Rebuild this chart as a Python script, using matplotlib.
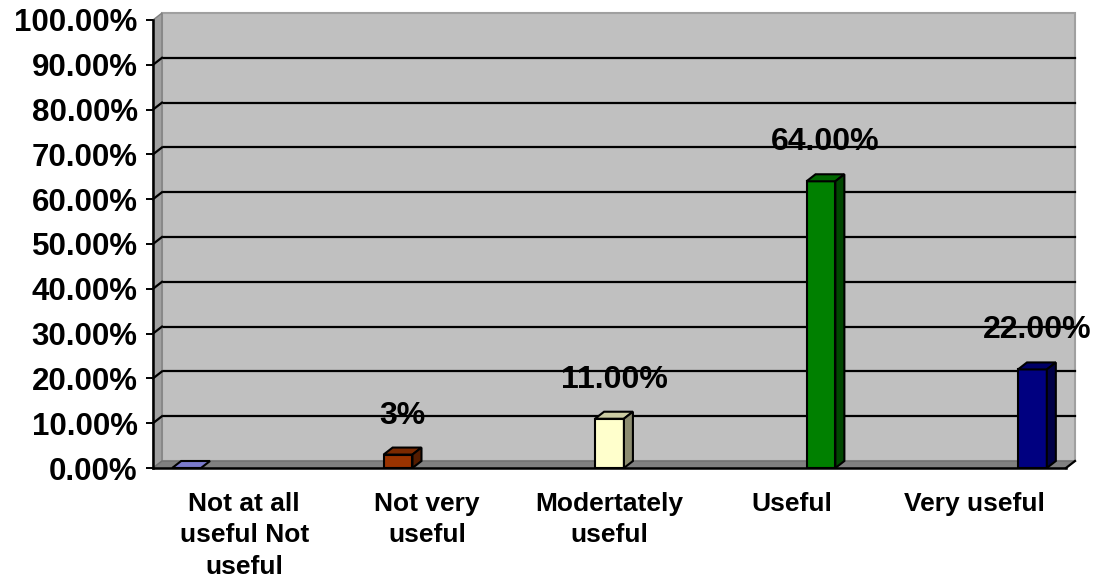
import numpy as np
import matplotlib
matplotlib.use('Agg')
import matplotlib.pyplot as plt
from matplotlib.patches import Polygon, Rectangle
from matplotlib.transforms import offset_copy
from matplotlib.colors import to_rgb

categories = ['Not at all\nuseful Not\nuseful', 'Not very\nuseful', 'Modertately\nuseful',
              'Useful', 'Very useful']
values = [0, 3, 11, 64, 22]
value_labels = ['', '3%', '11.00%', '64.00%', '22.00%']
colors = ['#9999FF', '#993300', '#FFFFCC', '#008000', '#000080']
y_ticks = list(range(0, 101, 10))
y_tick_labels = ['%d.00%%' % t for t in y_ticks]


def shade(color, f):
    r, g, b = to_rgb(color)
    return (r * f, g * f, b * f)


plt.rcParams['font.family'] = ['Liberation Sans', 'DejaVu Sans']
plt.rcParams['font.weight'] = 'bold'

fig = plt.figure(figsize=(11.05, 5.8), dpi=100)
ax = fig.add_axes([153 / 1105, 1 - 468 / 580, 913 / 1105, 448 / 580])
ax.set_xlim(0, len(categories))
ax.set_ylim(0, 100)
ax.patch.set_visible(False)

# depth of the 3d effect, in pixels
depth_px = (9, 7)
back = offset_copy(ax.transData, fig=fig, x=depth_px[0], y=depth_px[1], units='dots')

# back wall + gridlines
ax.add_patch(Rectangle((0, 0), len(categories), 100, transform=back, facecolor='#C0C0C0',
                       edgecolor='#A0A0A0', lw=1.5, zorder=0, clip_on=False))
for t in y_ticks[1:-1]:
    ax.plot([0, len(categories)], [t, t], color='black', lw=1.6, transform=back, zorder=1, clip_on=False)

# left wall and floor, built from the data corners
x0, x1 = 0, len(categories)
p00 = ax.transData.transform((x0, 0))
inv = ax.transData.inverted()
dx, dy = inv.transform(p00 + np.array(depth_px)) - np.array([x0, 0])
ax.add_patch(Polygon([(x0, 0), (x0, 100), (x0 + dx, 100 + dy), (x0 + dx, dy)], facecolor='#A0A0A0',
                     edgecolor='#808080', lw=1, zorder=1.5, clip_on=False))
for t in y_ticks[1:-1]:
    ax.plot([x0, x0 + dx], [t, t + dy], color='black', lw=1.6, zorder=1.6, clip_on=False)
ax.add_patch(Polygon([(x0, 0), (x1, 0), (x1 + dx, dy), (x0 + dx, dy)], facecolor='#808080',
                     edgecolor='#707070', lw=1, zorder=1.5, clip_on=False))
ax.plot([x1, x1 + dx], [0, dy], color='black', lw=1.6, zorder=1.6, clip_on=False)

# bars: one series per slot within the cluster
gap = 0.21
w = (1 - gap) / len(values)
xs = [i + gap / 2 + (i + 0.5) * w for i in range(len(values))]
bars = ax.bar(xs, values, width=w, color=colors, edgecolor='black', linewidth=1.5, zorder=3)
for b, c in zip(bars, colors):
    bx, bw, bh = b.get_x(), b.get_width(), b.get_height()
    top = Polygon([(bx, bh), (bx + bw, bh), (bx + bw + dx, bh + dy), (bx + dx, bh + dy)],
                  facecolor=shade(c, 0.8), edgecolor='black', lw=1.5, zorder=3, clip_on=False)
    ax.add_patch(top)
    if bh > 0:
        side = Polygon([(bx + bw, 0), (bx + bw + dx, dy), (bx + bw + dx, bh + dy), (bx + bw, bh)],
                       facecolor=shade(c, 0.55), edgecolor='black', lw=1.5, zorder=3, clip_on=False)
        ax.add_patch(side)

for x, v, lab in zip(xs, values, value_labels):
    if lab:
        ax.annotate(lab, (x + dx / 2, v), xytext=(0, 31), textcoords='offset pixels',
                    ha='center', va='baseline', fontsize=23, fontweight='bold', zorder=5,
                    annotation_clip=False)

# axes
for s in ['top', 'right']:
    ax.spines[s].set_visible(False)
for s in ['left', 'bottom']:
    ax.spines[s].set_linewidth(1.8)
    ax.spines[s].set_zorder(4)
ax.set_yticks(y_ticks)
ax.set_yticklabels(y_tick_labels, fontsize=22.5, fontweight='bold')
ax.tick_params(axis='y', direction='out', length=5, width=1.4, pad=6)
ax.set_xticks([i + 0.5 for i in range(len(categories))])
ax.set_xticklabels(categories, fontsize=19, fontweight='bold', linespacing=1.4)
ax.tick_params(axis='x', length=0, pad=17)

fig.savefig('out.png', dpi=100)
